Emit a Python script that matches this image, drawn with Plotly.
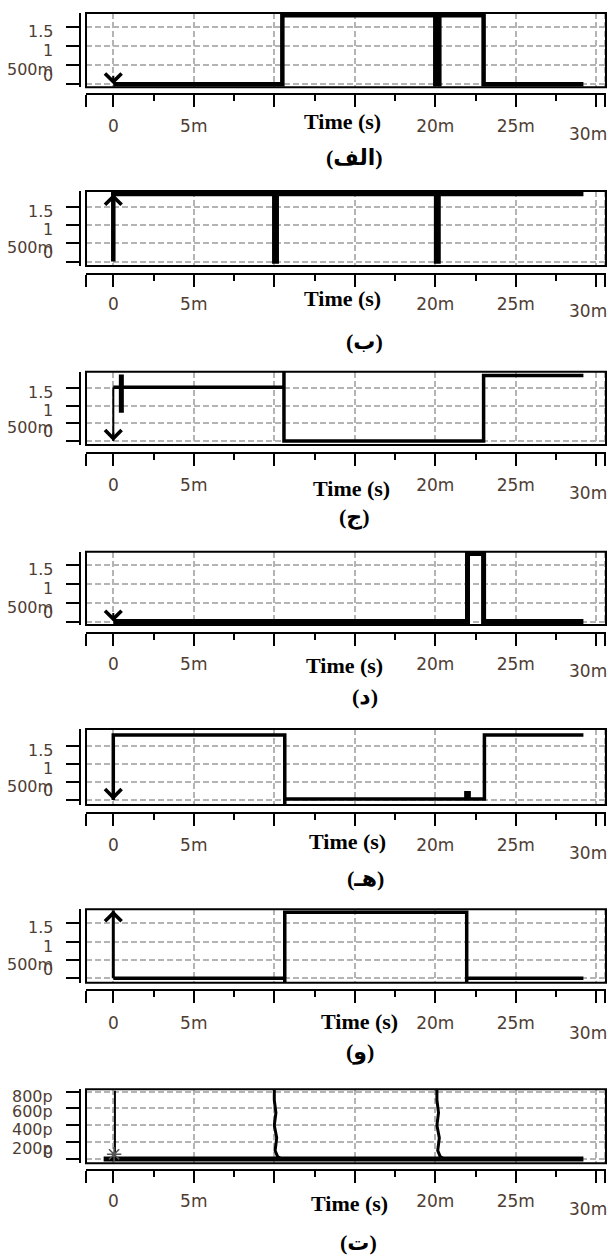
import plotly.graph_objects as go

W, H = 608, 1256

# ------------------------------------------------------------------ data
x_major_vals = [0, 5, 10, 15, 20, 25, 30]
x_major_text = ["0", "5m", "", "", "20m", "25m", ""]
x_minor_vals = [2.5, 7.5, 12.5, 17.5, 22.5, 27.5]
x_last_label = "30m"
x_title = "Time (s)"

volt_vals = [0, 0.5, 1, 1.5]
volt_text = ["0", "500m", "1", "1.5"]
cap_vals = [0, 200, 400, 600, 800]
cap_text = ["0", "200p", "400p", "600p", "800p"]

panel_names = ["(الف)", "(ب)", "(ج)", "(د)", "(هـ)", "(و)", "(ت)"]

# (الف)
t_a = [0, 10.5, 10.5, 20.0, 20.0, 20.25, 20.25, 23.0, 23.0, 29.2]
v_a = [0, 0, 1.8, 1.8, 0, 0, 1.8, 1.8, 0, 0]
# (ب)
t_b = [0, 0, 10.0, 10.0, 10.15, 10.15, 20.05, 20.05, 20.2, 20.2, 29.2]
v_b = [0, 1.85, 1.85, 0, 0, 1.85, 1.85, 0, 0, 1.85, 1.85]
# (ج)
t_c_stem = [0, 0]
v_c_stem = [1.52, 0]
t_c = [0, 10.6, 10.6, 10.6, 23.0, 23.0, 29.2]
v_c = [1.52, 1.52, 1.95, 0, 0, 1.85, 1.85]
t_c_glitch = [0.5, 0.5]
v_c_glitch = [1.88, 0.8]
# (د)
t_d = [0, 22.0, 22.0, 23.0, 23.0, 29.2]
v_d = [0, 0, 1.8, 1.8, 0, 0]
# (هـ)
t_e = [0, 0, 10.65, 10.65, 10.65, 21.9, 21.9, 22.1, 22.1, 23.05, 23.05, 29.2]
v_e = [0, 1.8, 1.8, -0.14, 0.03, 0.03, 0.2, 0.2, 0.03, 0.03, 1.8, 1.8]
# (و)
t_f_stem = [0, 0]
v_f_stem = [0, 1.85]
t_f = [0, 10.65, 10.65, 10.65, 21.95, 21.95, 21.95, 29.2]
v_f = [0, 0, -0.12, 1.8, 1.8, -0.12, 0, 0]
# (ت)  capacitance-like trace, in pF
t_g_base = [-0.6, 29.2]
v_g_base = [0, 0]
t_g_s0 = [0.1, 0.1]
v_g_s0 = [0, 810]
t_g_s10 = [10.45, 10.2, 10.05, 10.15, 10.0, 10.1, 10.0, 10.0]
v_g_s10 = [0, 30, 100, 250, 400, 550, 700, 840]
t_g_s20 = [20.55, 20.3, 20.15, 20.25, 20.1, 20.2, 20.1, 20.1]
v_g_s20 = [0, 30, 100, 250, 400, 550, 700, 840]
t_g_star = [0.05]
v_g_star = [55]

# probe arrow heads (tip positions)
arrow_t = [0, 0, 0, 0, 0, 0]
arrow_v = [0, 1.85, 0, 0, 0, 1.85]
arrow_dir = ["down", "up", "down", "down", "down", "up"]

# ------------------------------------------------------------------ layout (pixels)
FR_TOP = [13.0, 191.0, 371.7, 551.7, 729.0, 909.3, 1089.3]
FR_BOT = [87.3, 266.0, 445.0, 625.0, 805.0, 982.7, 1163.3]
AX_Y = [94.3, 274.3, 453.3, 633.3, 813.3, 990.0, 1170.0]
LBL_STANDOFF = [4, 2, 4, 3, 4, 6, 4]
LBL_OFF = [29, 25.7, 28.4, 26.7, 28.4, 31.7, 28.3]
Y_RANGES = [[-0.078, 1.857], [-0.12, 1.93], [-0.115, 1.96], [-0.09, 1.85],
            [-0.14, 1.97], [-0.12, 1.88], [-52, 828]]
TITLE_POS = [(342.6, 121.7), (342.6, 298.3), (351, 488.3), (344, 665),
             (347, 841.7), (359, 1021.7), (349, 1203.3)]
NAME_POS = [(354, 157), (364, 341.7), (354, 516.7), (365, 696.7),
            (365, 878.3), (360, 1051.7), (358, 1242)]
X_LEFT, X_RIGHT = 86, 606
X0_PX, PX_PER_MS = 113.3, 16.1
Y_AXIS_X = 80
YLBL_RIGHT = 55
VOLT_SHIFT = [9, -4.5, -4.5, -4.5]
CAP_SHIFT = [6.5, -6, -4.3, -3.3, -4.4]
TICK_SIZE = 17

TICK_COLOR = "#4e3d33"
GRID = dict(showgrid=True, gridcolor="#b4b4b4", griddash="6px,3px", gridwidth=1.5)

x_range = [(X_LEFT - X0_PX) / PX_PER_MS, (X_RIGHT - X0_PX) / PX_PER_MS]
end_ticks = [x_range[0] + 0.005, 30.52]

SIGNALS = [
    [(t_a, v_a, 4.5)],
    [(t_b, v_b, 4.5)],
    [(t_c_stem, v_c_stem, 2), (t_c, v_c, 3.5), (t_c_glitch, v_c_glitch, 5)],
    [(t_d, v_d, 5)],
    [(t_e, v_e, 3.5)],
    [(t_f_stem, v_f_stem, 3), (t_f, v_f, 3.5)],
    [(t_g_base, v_g_base, 5), (t_g_s0, v_g_s0, 2), (t_g_s10, v_g_s10, 3), (t_g_s20, v_g_s20, 3)],
]


def py(p):
    return 1 - p / H


def px(p):
    return p / W


fig = go.Figure()
annotations = []
shapes = []
layout = {}

for i in range(7):
    n = "" if i == 0 else str(i + 1)
    xa, ya = "x" + n, "y" + n
    for t, v, w in SIGNALS[i]:
        fig.add_trace(go.Scatter(x=t, y=v, mode="lines", xaxis=xa, yaxis=ya,
                                 line=dict(color="black", width=w),
                                 hoverinfo="skip", showlegend=False))
    if i == 6:
        fig.add_trace(go.Scatter(x=t_g_star, y=v_g_star, mode="markers", xaxis=xa, yaxis=ya,
                                 marker=dict(symbol="asterisk-open", size=12, color="#555555",
                                             line=dict(color="#555555", width=1.5)),
                                 hoverinfo="skip", showlegend=False))

    layout["xaxis" + n] = dict(
        domain=[px(X_LEFT), px(X_RIGHT)], range=x_range, anchor="free",
        position=py(AX_Y[i]),
        showline=True, linecolor="black", linewidth=2,
        ticks="outside", ticklen=12, tickwidth=2, tickcolor="black",
        tickmode="array", tickvals=[end_ticks[0]] + x_major_vals + [end_ticks[1]],
        ticktext=[""] + x_major_text + [""],
        minor=dict(tickmode="array", tickvals=x_minor_vals, ticks="outside",
                   ticklen=6, tickwidth=2, tickcolor="black", showgrid=False),
        tickfont=dict(family="DejaVu Sans", size=TICK_SIZE, color=TICK_COLOR),
        ticklabelstandoff=LBL_STANDOFF[i],
        zeroline=False, fixedrange=True, **GRID)

    yv = cap_vals if i == 6 else volt_vals
    yt = cap_text if i == 6 else volt_text
    ys = CAP_SHIFT if i == 6 else VOLT_SHIFT
    layout["yaxis" + n] = dict(
        domain=[py(FR_BOT[i]), py(FR_TOP[i])], range=Y_RANGES[i], anchor="free",
        position=px(Y_AXIS_X),
        showline=True, linecolor="black", linewidth=2,
        ticks="outside", ticklen=13, tickwidth=2, tickcolor="black",
        tickmode="array", tickvals=yv, showticklabels=False,
        zeroline=False, fixedrange=True, **GRID)

    for val, txt, sh in zip(yv, yt, ys):
        annotations.append(dict(x=px(YLBL_RIGHT), xref="paper", xanchor="right",
                                y=val, yref=ya, yanchor="middle", yshift=sh,
                                text=txt, showarrow=False,
                                font=dict(family="DejaVu Sans", size=TICK_SIZE - 1, color=TICK_COLOR)))

    # last x label (30m), drawn lower as in the original
    annotations.append(dict(x=px(587.5), xref="paper", xanchor="center",
                            y=py(AX_Y[i] + LBL_OFF[i] + 11), yref="paper", yanchor="middle",
                            text=x_last_label, showarrow=False,
                            font=dict(family="DejaVu Sans", size=TICK_SIZE, color=TICK_COLOR)))
    # axis title
    tx, ty = TITLE_POS[i]
    annotations.append(dict(x=px(tx), xref="paper", xanchor="center",
                            y=py(ty), yref="paper", yanchor="middle",
                            text="<b>" + x_title + "</b>", showarrow=False,
                            font=dict(family="Liberation Serif", size=22, color="black")))
    # panel name
    nx, ny = NAME_POS[i]
    annotations.append(dict(x=px(nx), xref="paper", xanchor="center",
                            y=py(ny), yref="paper", yanchor="middle",
                            text="<b>" + panel_names[i] + "</b>", showarrow=False,
                            font=dict(family="Liberation Serif, DejaVu Sans", size=22, color="black")))
    # arrow heads
    if i < 6:
        annotations.append(dict(x=arrow_t[i], y=arrow_v[i], xref=xa, yref=ya,
                                ax=0, ay=(-10 if arrow_dir[i] == "down" else 10),
                                text="", showarrow=True, arrowhead=4, arrowsize=1.6,
                                arrowwidth=2, arrowcolor="black"))
    # frame
    shapes.append(dict(type="rect", xref=xa + " domain", yref=ya + " domain",
                       x0=0, x1=1, y0=0, y1=1, line=dict(color="black", width=2),
                       layer="above"))

fig.update_layout(**layout)
fig.update_layout(width=W, height=H, margin=dict(l=0, r=0, t=0, b=0),
                  paper_bgcolor="white", plot_bgcolor="white", showlegend=False,
                  annotations=annotations, shapes=shapes)

fig.write_html("out.html", config={"displayModeBar": False},
               post_script="document.body.style.margin='0px';"
                           "document.body.style.padding='0px';"
                           "document.body.style.overflow='hidden';")
